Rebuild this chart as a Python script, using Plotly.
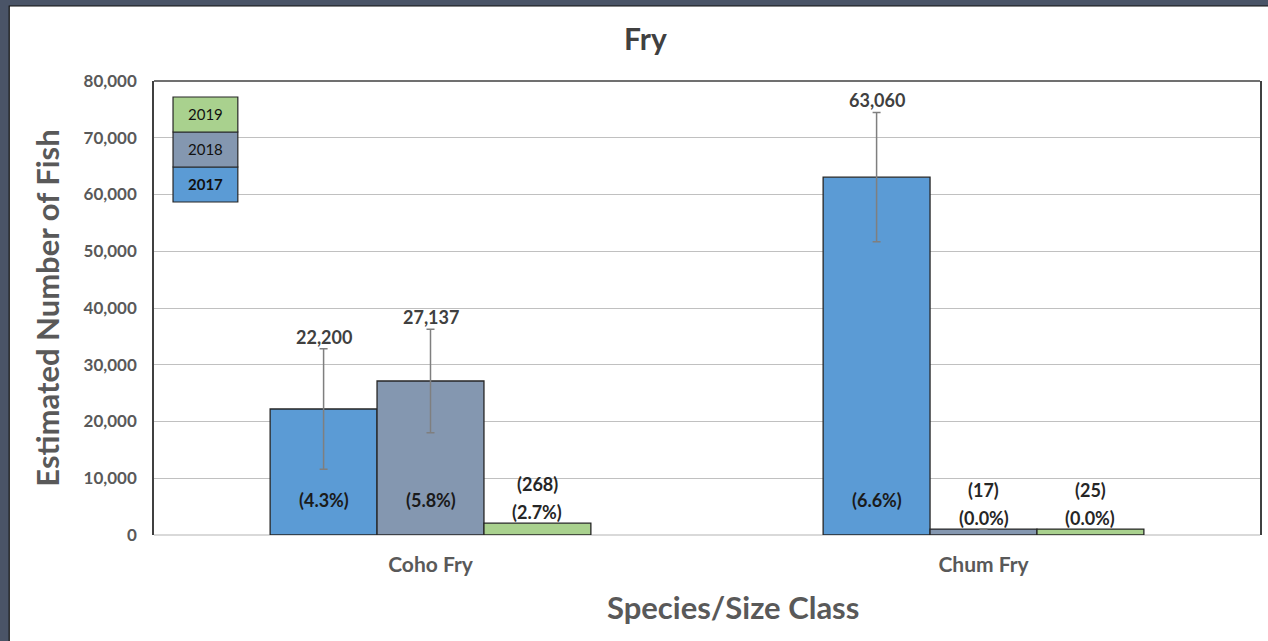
import plotly.graph_objects as go

categories = ["Coho Fry", "Chum Fry"]
years = ["2017", "2018", "2019"]
colors = ["#5b9bd5", "#8497b0", "#a9d18e"]

# bar heights as drawn in the picture
bar_height = {
    "2017": [22200, 63060],
    "2018": [27137, 1050],
    "2019": [2080, 1050],
}
# estimates printed on the chart
estimate_label = {
    "2017": ["22,200", "63,060"],
    "2018": ["27,137", "(17)"],
    "2019": ["(268)", "(25)"],
}
percent_label = {
    "2017": ["(4.3%)", "(6.6%)"],
    "2018": ["(5.8%)", "(0.0%)"],
    "2019": ["(2.7%)", "(0.0%)"],
}
error_half = {
    "2017": [10600, 11400],
    "2018": [9100, None],
    "2019": [None, None],
}

FONT = "Lato"
bargap = 0.42
nbar = len(years)
bw = (1 - bargap) / nbar

fig = go.Figure()
for j, yr in enumerate(years):
    err = error_half[yr]
    kw = {}
    if any(e is not None for e in err):
        kw["error_y"] = dict(type="data", array=[e if e is not None else float("nan") for e in err],
                             visible=True, color="#7f7f7f", thickness=1.5, width=4)
    fig.add_trace(go.Bar(
        x=list(range(len(categories))), y=bar_height[yr], name=yr,
        marker=dict(color=colors[j], line=dict(color="#262626", width=1.3)),
        showlegend=False, hoverinfo="skip", **kw))

ann = []
for j, yr in enumerate(years):
    for i, cat in enumerate(categories):
        xc = i + (j - (nbar - 1) / 2) * bw
        h = bar_height[yr][i]
        e = error_half[yr][i]
        if e is not None:
            ann.append(dict(x=xc, y=h + e, text="<b>%s</b>" % estimate_label[yr][i], showarrow=False,
                            yanchor="middle", yshift=12, font=dict(family=FONT, size=18, color="#404040")))
            ann.append(dict(x=xc, y=0, text="<b>%s</b>" % percent_label[yr][i], showarrow=False,
                            yanchor="middle", yshift=35, font=dict(family=FONT, size=18, color="#1a1a1a")))
        else:
            ann.append(dict(x=xc, y=h, text="<b>%s</b>" % estimate_label[yr][i], showarrow=False,
                            yanchor="middle", yshift=39, font=dict(family=FONT, size=18, color="#262626")))
            ann.append(dict(x=xc, y=h, text="<b>%s</b>" % percent_label[yr][i], showarrow=False,
                            yanchor="middle", yshift=11, font=dict(family=FONT, size=18, color="#262626")))

shapes = []
# outer frame: white panel on a dark background
shapes.append(dict(type="rect", xref="paper", yref="paper", x0=-0.1309, x1=1.01, y0=-0.25, y1=1.1652,
                   fillcolor="white", line=dict(color="#111111", width=1.2), layer="below"))
# top border of plot area
shapes.append(dict(type="line", xref="x domain", yref="y domain", x0=0, x1=1, y0=1, y1=1,
                   line=dict(color="#404040", width=1.5)))

# legend drawn as stacked cells (2019 on top)
lx0, lx1 = 0.0172, 0.0758
ly = [0.7335, 0.8106, 0.8877, 0.9648]
for j, yr in enumerate(years):
    shapes.append(dict(type="rect", xref="x domain", yref="y domain", x0=lx0, x1=lx1, y0=ly[j], y1=ly[j + 1],
                       fillcolor=colors[j], line=dict(color="#262626", width=1.2)))
    txt = "<b>%s</b>" % yr if j == 0 else yr
    ann.append(dict(xref="x domain", yref="y domain", x=(lx0 + lx1) / 2, y=(ly[j] + ly[j + 1]) / 2,
                    xanchor="center", yanchor="middle",
                    text=txt, showarrow=False, font=dict(family=FONT, size=15, color="#111111")))

# x-axis title (placed slightly right of centre as in the original)
ann.append(dict(xref="paper", yref="paper", x=0.5235, y=-0.1586, xanchor="center", yanchor="middle",
                text="<b>Species/Size Class</b>", showarrow=False,
                font=dict(family=FONT, size=31, color="#595959")))

fig.update_layout(
    width=1268, height=641,
    margin=dict(l=154, r=6, t=81, b=106),
    paper_bgcolor="#4a5467", plot_bgcolor="white",
    bargap=bargap, bargroupgap=0, barmode="group",
    title=dict(text="<b>Fry</b>", x=0.509, xanchor="center", y=0.938, yanchor="middle",
               font=dict(family=FONT, size=30, color="#404040")),
    xaxis=dict(tickmode="array", tickvals=list(range(len(categories))),
               ticktext=["<b>%s</b>" % c for c in categories], range=[-0.5, len(categories) - 0.5],
               tickfont=dict(family=FONT, size=21, color="#595959"), showline=False, showgrid=False,
               ticks="", ticklabelstandoff=15),
    yaxis=dict(range=[0, 80000], dtick=10000, tickformat=",d", showgrid=True, gridcolor="#c0c0c0",
               gridwidth=1, zeroline=True, zerolinecolor="#d9d9d9", zerolinewidth=1.5,
               showline=True, mirror=True, linecolor="#404040", linewidth=1.5,
               tickfont=dict(family=FONT, size=17, color="#595959"), ticks="", ticklabelstandoff=12,
               tickprefix="<b>", ticksuffix="</b>",
               title=dict(text="<b>Estimated Number of Fish</b>", standoff=15,
                          font=dict(family=FONT, size=31, color="#595959"))),
    shapes=shapes, annotations=ann,
)

fig.write_html("out.html", config={"displayModeBar": False},
               post_script="document.body.style.margin='0';document.body.style.overflow='hidden';")
